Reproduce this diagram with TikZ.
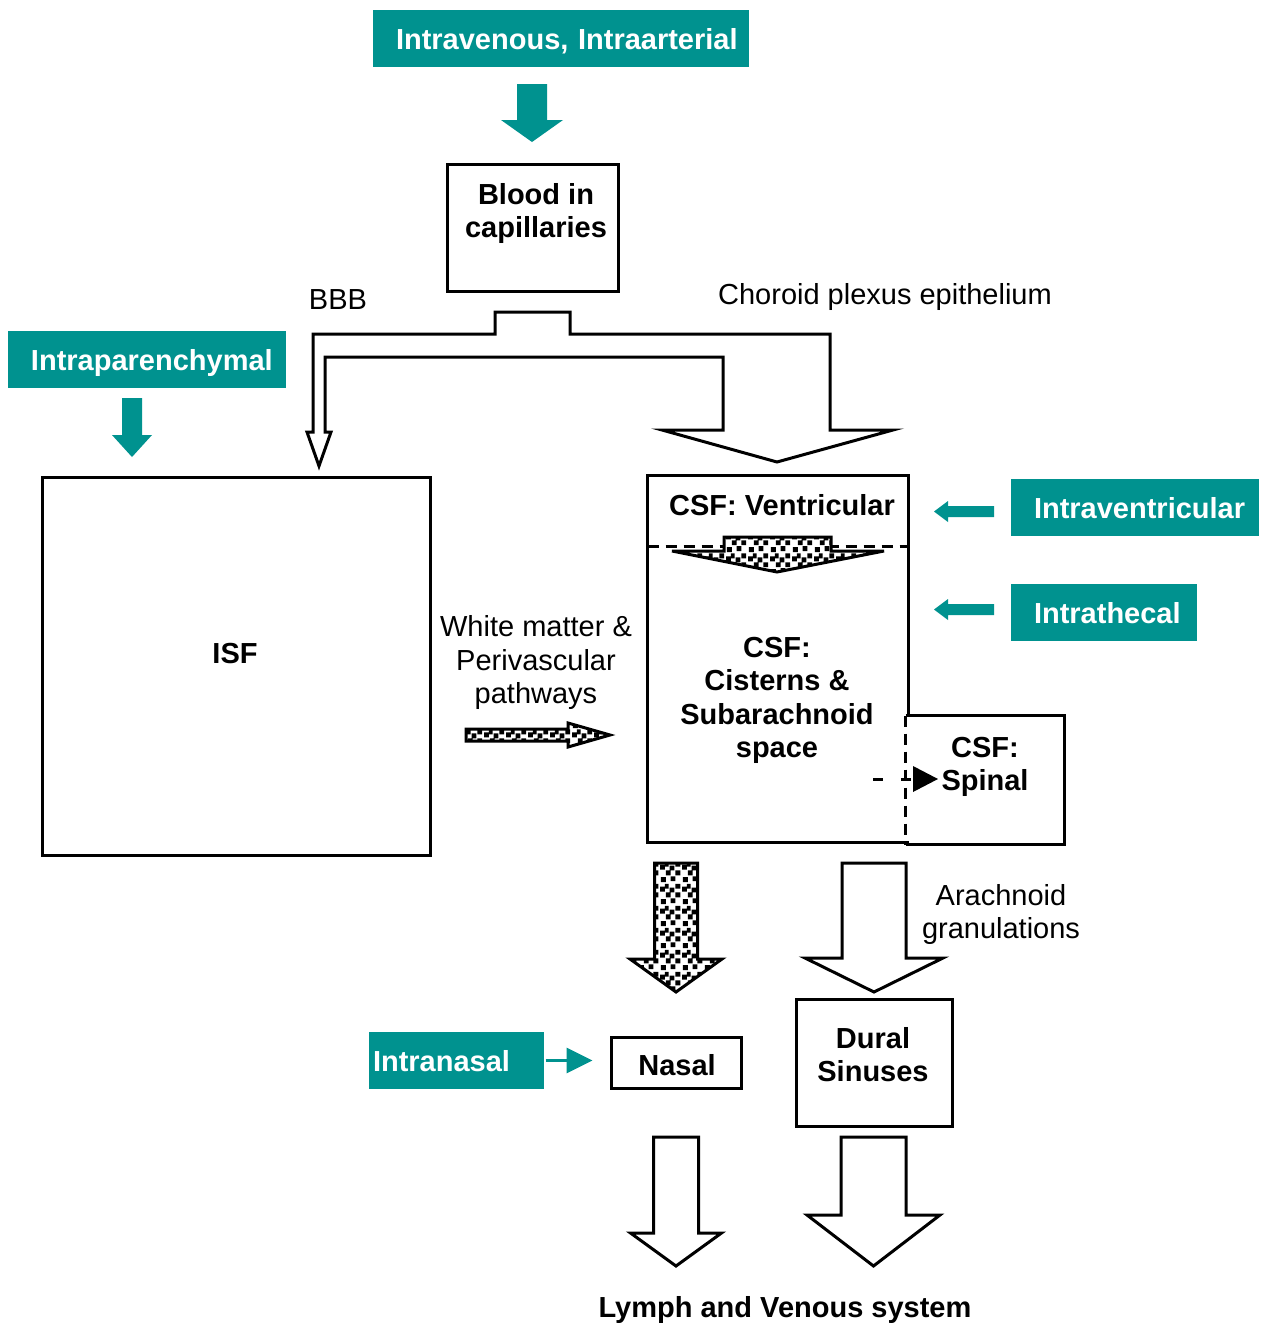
\documentclass[tikz,border=0pt]{standalone}
\usepackage{fontspec}
\setmainfont{Liberation Sans}
\usetikzlibrary{patterns,arrows.meta}
\definecolor{tealc}{RGB}{0,146,143}
\pgfdeclarepatternformonly{sqdots}{\pgfqpoint{0pt}{0pt}}{\pgfqpoint{22pt}{22pt}}{\pgfqpoint{22pt}{22pt}}{%
  \pgfpathrectangle{\pgfqpoint{1pt}{1pt}}{\pgfqpoint{5pt}{5pt}}%
  \pgfpathrectangle{\pgfqpoint{11pt}{2pt}}{\pgfqpoint{5pt}{5pt}}%
  \pgfpathrectangle{\pgfqpoint{16pt}{8pt}}{\pgfqpoint{5pt}{5pt}}%
  \pgfpathrectangle{\pgfqpoint{6pt}{8pt}}{\pgfqpoint{5pt}{5pt}}%
  \pgfpathrectangle{\pgfqpoint{0pt}{14pt}}{\pgfqpoint{5pt}{5pt}}%
  \pgfpathrectangle{\pgfqpoint{10pt}{13pt}}{\pgfqpoint{5pt}{5pt}}%
  \pgfpathrectangle{\pgfqpoint{16pt}{17pt}}{\pgfqpoint{5pt}{5pt}}%
  \pgfpathrectangle{\pgfqpoint{5pt}{17pt}}{\pgfqpoint{4pt}{5pt}}%
  \pgfusepath{fill}}
% block arrow pointing down: style, cx, top, shaft half, head top, head half, tip
\newcommand\BlkDown[7]{\path[#1] ({#2-#4},#3) -- ({#2+#4},#3) -- ({#2+#4},#5) -- ({#2+#6},#5) -- (#2,#7) -- ({#2-#6},#5) -- ({#2-#4},#5) -- cycle;}
% block arrow pointing left: style, tip x, head base x, tail x, cy, shaft half, head half
\newcommand\BlkLeft[7]{\path[#1] (#2,#5) -- (#3,{#5-#7}) -- (#3,{#5-#6}) -- (#4,{#5-#6}) -- (#4,{#5+#6}) -- (#3,{#5+#6}) -- (#3,{#5+#7}) -- cycle;}
\tikzset{
  tealbox/.style={fill=tealc, text=white, font=\bfseries\fontsize{29}{33.5}\selectfont,
    inner sep=0pt, minimum height=57pt, text height=21pt, text depth=0pt, align=left},
  blkbox/.style={draw, line width=3pt, inner sep=0pt},
  areabox/.style={inner sep=0pt},
  lbl/.style={font=\fontsize{29}{33.5}\selectfont, align=center, anchor=base, inner sep=0pt},
  blbl/.style={lbl, font=\bfseries\fontsize{29}{33.5}\selectfont},
  hollow/.style={draw, fill=white, line width=3pt, line join=miter},
  dotblk/.style={draw, line width=3pt, line join=miter, preaction={fill=white}, pattern=sqdots},
  tealarr/.style={fill=tealc},
  dashline/.style={line width=3.2pt, dash pattern=on 11pt off 7pt},
}
\begin{document}
\begin{tikzpicture}[x=1pt, y=-1pt, line width=3pt]
\fill[white] (0,0) rectangle (1262,1323);
\useasboundingbox (0,0) rectangle (1262,1323);

% teal route boxes
\node[tealbox, text width=376pt] (iv) at (561,38.5) {\noindent\hspace*{23pt}Intravenous, Intraarterial};
\node[tealbox, text width=278pt] (ip) at (147,359.5) {\noindent\hspace*{23pt}Intraparenchymal};
\node[tealbox, text width=248pt] (ivent) at (1135,507.5) {\noindent\hspace*{23pt}Intraventricular};
\node[tealbox, text width=186pt] (ith) at (1104,612.5) {\noindent\hspace*{23pt}Intrathecal};
\node[tealbox, text width=175pt] (inas) at (456.5,1060.5) {\noindent\hspace*{4pt}Intranasal};

% black boxes
\node[blkbox, minimum width=171pt, minimum height=127pt] (blood) at (532.5,227.5) {};
\node[blkbox, minimum width=388pt, minimum height=378pt] (isf) at (236,666) {};
\node[blkbox, minimum width=130pt, minimum height=51pt] (nasal) at (676,1062.5) {};
\node[blkbox, minimum width=156pt, minimum height=127pt] (dural) at (874,1062.5) {};
\node[areabox, minimum width=258pt, minimum height=68pt] (ventbox) at (778,511) {};
\node[areabox, minimum width=258pt, minimum height=296pt] (cistbox) at (778,693) {};
\node[areabox, minimum width=156pt, minimum height=126pt] (spinalbox) at (985,780) {};

% teal arrows
\BlkDown{tealarr}{532}{84}{15}{120}{31}{142}
\BlkDown{tealarr}{132}{398}{10}{435}{20}{457}
\BlkLeft{tealarr}{934}{948}{994}{511.5}{5.5}{10.5}
\BlkLeft{tealarr}{934}{948}{994}{609.5}{5.5}{10.5}
\draw[tealc, line width=3pt, shorten >=17pt, -{Triangle[length=26pt,width=25pt]}]
  (inas.east) -- (nasal.west |- inas.east);

% CSF compartments borders
\draw[line join=miter] (cistbox.east |- spinalbox.north) -- (ventbox.north east) -- (ventbox.north west)
  -- (cistbox.south west) -- (cistbox.south east);
\draw[line join=miter] (spinalbox.north west) -- (spinalbox.north east) -- (spinalbox.south east) -- (spinalbox.south west);
\draw[dashline] (spinalbox.north west) -- (spinalbox.south west);
\draw[dashline] (ventbox.south west) -- (ventbox.south east);

% BBB / choroid plexus split arrow
\draw[hollow] (495,334) -- (495,312) -- (570,312) -- (570,334) -- (830,334) -- (830,430) -- (893,430)
  -- (777,462) -- (662,430) -- (723,430) -- (723,357) -- (325,357) -- (325,432) -- (331,432)
  -- (319,466) -- (307,432) -- (313,432) -- (313,334) -- cycle;

% ventricular -> cisterns (dotted)
\path[dotblk] (724,537) -- (831,537) -- (831,551) -- (884,551) -- (777,572) -- (672,551) -- (724,551) -- cycle;
% white matter arrow (dotted)
\path[dotblk] (466,729) -- (568,729) -- (568,723) -- (610,735) -- (568,747) -- (568,741) -- (466,741) -- cycle;
% spinal dashed arrow
\coordinate (spa) at (873,779);
\coordinate (spb) at (913,779);
\draw[line width=3pt, dash pattern=on 10pt off 18pt] (spa) -- (spb);
\fill (spb) -- ++(0,-13) -- ++(25,13) -- ++(-25,13) -- cycle;

% lower arrows
\BlkDown{dotblk}{676}{863}{21.5}{959}{46}{992}
\BlkDown{hollow}{874}{863}{32}{958}{69}{992}
\BlkDown{hollow}{676}{1137}{22.5}{1233}{45.5}{1266}
\BlkDown{hollow}{873.5}{1137}{32.5}{1215}{66.5}{1266}

% texts (anchor base = baseline of last line)
\node[blbl] (bloodtxt) at (536,237.5) {Blood in\\capillaries};
\node[blbl] (isftxt) at (235,663.5) {ISF};
\node[blbl] (venttxt) at (782,515.5) {CSF: Ventricular};
\node[blbl] (cisttxt) at (777,757.5) {CSF:\\Cisterns \&\\Subarachnoid\\space};
\node[blbl] (spinaltxt) at (985,790.5) {CSF:\\Spinal};
\node[blbl] (nasaltxt) at (677,1075.5) {Nasal};
\node[blbl] (duraltxt) at (873,1081.5) {Dural\\Sinuses};
\node[blbl] (lymph) at (785,1317.5) {Lymph and Venous system};
\node[lbl] (bbb) at (338,309.5) {BBB};
\node[lbl] (chor) at (885,304.5) {Choroid plexus epithelium};
\node[lbl] (wm) at (536,703.5) {White matter \&\\Perivascular\\pathways};
\node[lbl] (arach) at (1001,938.5) {Arachnoid\\granulations};
\end{tikzpicture}
\end{document}
